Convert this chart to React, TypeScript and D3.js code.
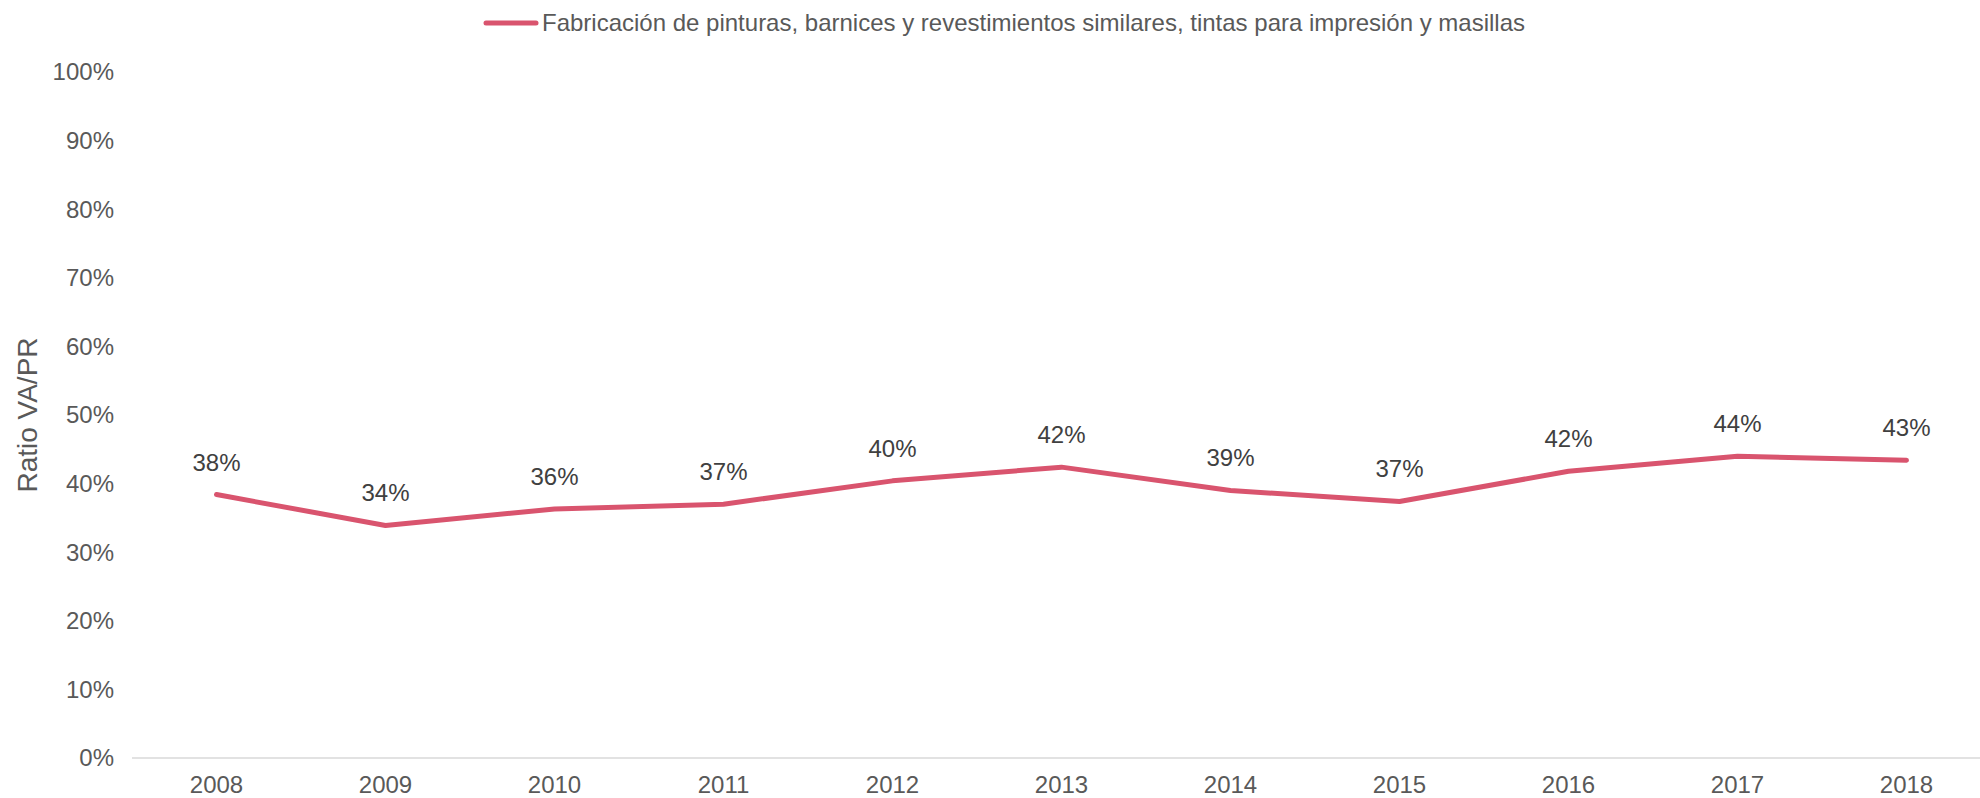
import React, { useRef, useEffect } from "react";
import * as d3 from "d3";

const years = ["2008", "2009", "2010", "2011", "2012", "2013", "2014", "2015", "2016", "2017", "2018"];
const ratio = [0.384, 0.339, 0.363, 0.37, 0.404, 0.424, 0.39, 0.374, 0.418, 0.44, 0.434];
const yTicks = [0, 0.1, 0.2, 0.3, 0.4, 0.5, 0.6, 0.7, 0.8, 0.9, 1];
const seriesName = "Fabricación de pinturas, barnices y revestimientos similares, tintas para impresión y masillas";

const W = 1980;
const H = 798;
const FONT = "'Liberation Sans', Arial, sans-serif";
const RED = "#d9546e";

const App = () => {
  const svgRef = useRef<SVGSVGElement>(null);

  useEffect(() => {
    const svg = d3.select(svgRef.current);
    svg.selectAll("*").remove();

    const x = d3.scaleBand().domain(years).range([132, 1991]);
    const y = d3.scaleLinear().domain([0, 1]).range([758, 72]);
    const cx = (d: string) => (x(d) as number) + x.bandwidth() / 2;

    // y tick labels
    svg.append("g")
      .selectAll("text")
      .data(yTicks)
      .join("text")
      .attr("x", 114)
      .attr("y", d => y(d))
      .attr("dy", "0.35em")
      .attr("text-anchor", "end")
      .attr("font-size", 24)
      .attr("fill", "#595959")
      .text(d => d3.format(".0%")(d));

    // axis line at 0
    svg.append("line")
      .attr("x1", 132).attr("x2", W)
      .attr("y1", y(0)).attr("y2", y(0))
      .attr("stroke", "#d9d9d9")
      .attr("stroke-width", 1.5);

    // x labels
    svg.append("g")
      .selectAll("text")
      .data(years)
      .join("text")
      .attr("x", d => cx(d))
      .attr("y", 795)
      .attr("dy", "-0.1em")
      .attr("text-anchor", "middle")
      .attr("font-size", 24)
      .attr("fill", "#595959")
      .text(d => d);

    // y title
    svg.append("text")
      .attr("transform", `translate(37,${y(0.5)}) rotate(-90)`)
      .attr("text-anchor", "middle")
      .attr("font-size", 28)
      .attr("fill", "#595959")
      .text("Ratio VA/PR");

    const myLine = d3.line<number>()
      .x((_, i) => cx(years[i]))
      .y(d => y(d));

    svg.append("path")
      .datum(ratio)
      .attr("d", myLine)
      .attr("fill", "none")
      .attr("stroke", RED)
      .attr("stroke-width", 5)
      .attr("stroke-linecap", "round")
      .attr("stroke-linejoin", "round");

    // data labels
    svg.append("g")
      .selectAll("text")
      .data(ratio)
      .join("text")
      .attr("x", (_, i) => cx(years[i]))
      .attr("y", d => y(d) - 24)
      .attr("text-anchor", "middle")
      .attr("font-size", 24)
      .attr("fill", "#404040")
      .text(d => d3.format(".0%")(d));

    // legend
    svg.append("line")
      .attr("x1", 486).attr("x2", 536)
      .attr("y1", 23).attr("y2", 23)
      .attr("stroke", RED)
      .attr("stroke-width", 5)
      .attr("stroke-linecap", "round");
    svg.append("text")
      .attr("x", 542)
      .attr("y", 23)
      .attr("dy", "0.35em")
      .attr("font-size", 24)
      .attr("fill", "#595959")
      .text(seriesName);
  }, []);

  return (
    <svg
      ref={svgRef}
      width={W}
      height={H}
      style={{ display: "block", position: "absolute", left: 0, top: 0, fontFamily: FONT, background: "#fff" }}
    />
  );
};

export default App;
